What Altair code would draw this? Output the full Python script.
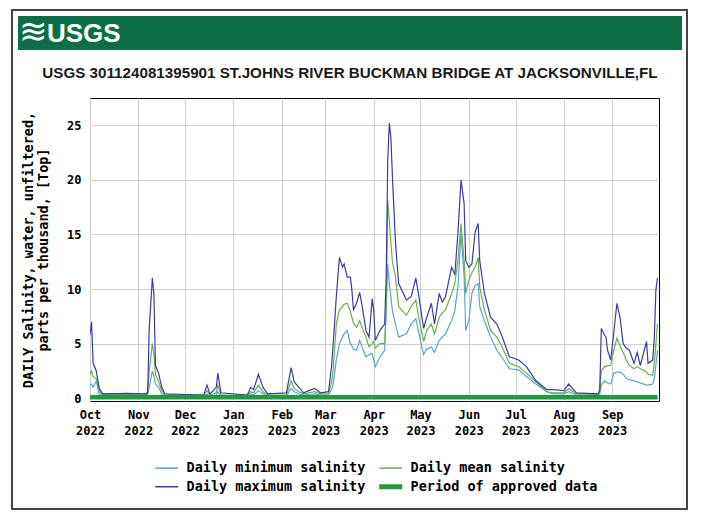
import altair as alt
import pandas as pd

# daily salinity (ppt)
dates = [
    "2022-10-01", "2022-10-02", "2022-10-03", "2022-10-05", "2022-10-07", "2022-10-09",
    "2022-10-25", "2022-11-06", "2022-11-07", "2022-11-08", "2022-11-10", "2022-11-11",
    "2022-11-12", "2022-11-14", "2022-11-16", "2022-11-18", "2022-12-13", "2022-12-15",
    "2022-12-17", "2022-12-21", "2022-12-22", "2022-12-24", "2023-01-10", "2023-01-12",
    "2023-01-14", "2023-01-17", "2023-01-20", "2023-01-23", "2023-02-04", "2023-02-07",
    "2023-02-09", "2023-02-12", "2023-02-15", "2023-02-22", "2023-02-26", "2023-03-03",
    "2023-03-05", "2023-03-06", "2023-03-08", "2023-03-10", "2023-03-12", "2023-03-13",
    "2023-03-15", "2023-03-17", "2023-03-18", "2023-03-19", "2023-03-21", "2023-03-23",
    "2023-03-25", "2023-03-27", "2023-03-29", "2023-03-31", "2023-04-01", "2023-04-02",
    "2023-04-05", "2023-04-08", "2023-04-09", "2023-04-10", "2023-04-11", "2023-04-12",
    "2023-04-13", "2023-04-15", "2023-04-17", "2023-04-22", "2023-04-25", "2023-04-28",
    "2023-04-30", "2023-05-03", "2023-05-05", "2023-05-08", "2023-05-10", "2023-05-13",
    "2023-05-15", "2023-05-17", "2023-05-21", "2023-05-23", "2023-05-25", "2023-05-27",
    "2023-05-29", "2023-05-30", "2023-06-01", "2023-06-03", "2023-06-05", "2023-06-07",
    "2023-06-08", "2023-06-11", "2023-06-15", "2023-06-19", "2023-06-22", "2023-06-27",
    "2023-07-03", "2023-07-08", "2023-07-14", "2023-07-21", "2023-07-25", "2023-08-01",
    "2023-08-04", "2023-08-09", "2023-08-23", "2023-08-24", "2023-08-25", "2023-08-27",
    "2023-08-28", "2023-08-29", "2023-08-31", "2023-09-02", "2023-09-04", "2023-09-06",
    "2023-09-08", "2023-09-10", "2023-09-12", "2023-09-15", "2023-09-17", "2023-09-19",
    "2023-09-23", "2023-09-24", "2023-09-27", "2023-09-28", "2023-09-29", "2023-09-30",
]
min_sal = [
    1.2, 1.3, 1.0, 1.6, 0.3, 0.3,
    0.3, 0.3, 0.3, 1.0, 2.5, 2.0,
    1.3, 1.0, 0.4, 0.2, 0.2, 0.4,
    0.2, 0.3, 0.6, 0.2, 0.2, 0.4,
    0.3, 0.7, 0.4, 0.2, 0.2, 0.9,
    0.6, 0.4, 0.3, 0.4, 0.3, 0.3,
    0.8, 1.3, 3.5, 5.0, 5.6, 5.9,
    6.2, 5.0, 4.8, 4.5, 4.4, 5.3,
    4.5, 3.8, 4.0, 4.1, 3.5, 2.9,
    3.8, 4.4, 8.1, 12.3, 10.5, 9.3,
    8.0, 6.8, 5.6, 5.9, 6.8, 7.3,
    5.9, 4.0, 4.5, 4.7, 4.2, 5.3,
    5.6, 5.9, 7.1, 8.0, 10.2, 15.1,
    11.1, 6.2, 7.1, 9.6, 10.3, 10.5,
    8.4, 7.1, 5.6, 4.4, 3.8, 2.7,
    2.6, 2.0, 1.3, 0.6, 0.4, 0.4,
    0.6, 0.3, 0.3, 0.4, 1.2, 1.6,
    1.5, 1.4, 1.3, 2.3, 2.4, 2.4,
    2.2, 1.8, 1.7, 1.6, 1.5, 1.4,
    1.2, 1.2, 1.3, 1.8, 3.0, 4.4,
]
mean_sal = [
    2.2, 2.5, 2.0, 1.8, 0.6, 0.35,
    0.35, 0.35, 0.4, 2.5, 5.0, 4.0,
    2.2, 1.5, 0.7, 0.3, 0.3, 0.7,
    0.3, 0.5, 1.2, 0.3, 0.3, 0.6,
    0.5, 1.2, 0.6, 0.3, 0.3, 1.6,
    0.9, 0.6, 0.4, 0.6, 0.4, 0.4,
    1.5, 2.6, 6.8, 8.1, 8.4, 8.6,
    8.7, 8.0, 7.4, 6.9, 6.5, 7.1,
    6.3, 5.6, 4.7, 5.0, 5.2, 4.6,
    5.0, 5.0, 8.1, 18.1, 16.3, 14.2,
    12.5, 11.1, 8.4, 7.6, 8.4, 9.0,
    7.3, 5.2, 6.2, 6.8, 5.9, 7.4,
    7.8, 8.1, 9.6, 10.5, 12.6, 16.0,
    12.6, 9.6, 10.8, 11.5, 12.0, 12.9,
    10.2, 8.1, 6.2, 5.6, 4.8, 3.2,
    2.9, 2.3, 1.5, 0.6, 0.5, 0.5,
    0.9, 0.4, 0.35, 0.6, 2.5, 2.9,
    2.9, 3.0, 3.0, 4.4, 5.5, 4.8,
    4.2, 3.5, 3.0, 2.7, 2.9, 2.7,
    2.4, 2.2, 2.1, 3.2, 5.0, 6.8,
]
max_sal = [
    5.8, 7.0, 3.2, 2.5, 0.9, 0.4,
    0.45, 0.4, 0.6, 6.4, 11.0, 9.5,
    3.0, 2.3, 1.0, 0.4, 0.3, 1.2,
    0.4, 1.0, 2.3, 0.5, 0.3, 1.0,
    0.8, 2.2, 1.0, 0.4, 0.5, 2.8,
    1.5, 1.0, 0.5, 0.9, 0.5, 0.6,
    3.0, 5.0, 9.3, 12.9, 12.0, 12.3,
    11.1, 11.1, 9.9, 8.1, 8.7, 9.7,
    8.1, 6.2, 5.6, 9.1, 8.1, 5.3,
    6.2, 6.8, 11.1, 21.8, 25.2, 23.9,
    20.3, 14.2, 10.5, 9.0, 9.3, 11.0,
    9.3, 6.4, 7.4, 8.7, 6.8, 9.6,
    8.8, 9.3, 12.0, 11.3, 15.1, 20.0,
    17.8, 12.6, 12.0, 12.3, 15.2, 16.0,
    12.6, 9.6, 7.4, 6.8, 5.8, 3.8,
    3.5, 2.9, 1.6, 0.8, 0.8, 0.7,
    1.3, 0.5, 0.4, 0.8, 6.4, 5.8,
    5.6, 4.4, 3.5, 6.0, 8.7, 7.4,
    5.0, 4.6, 4.4, 3.2, 4.2, 3.0,
    5.2, 3.2, 3.5, 5.6, 9.9, 11.0,
]

# approved-data bar along the bottom
approved_dates = ["2022-10-01", "2023-09-30"]
approved_level = [0.1, 0.1]

MIN_LBL = "Daily minimum salinity"
MEAN_LBL = "Daily mean salinity"
MAX_LBL = "Daily maximum salinity"
APPR_LBL = "Period of approved data"

# legend fills column by column -> min/max in the first column
legend_order = [MIN_LBL, MAX_LBL, MEAN_LBL, APPR_LBL]
legend_colors = ["#5aa6c8", "#3c3ca6", "#6aae50", "#1f9a3c"]

frames = []
for name, vals in [(MIN_LBL, min_sal), (MEAN_LBL, mean_sal), (MAX_LBL, max_sal)]:
    frames.append(pd.DataFrame({"date": dates, "value": vals, "series": name}))
df = pd.concat(frames, ignore_index=True)
df_appr = pd.DataFrame({"date": approved_dates, "value": approved_level, "series": APPR_LBL})

MONO = "DejaVu Sans Mono"
SANS = "Liberation Sans"

month_ticks = [alt.DateTime(year=2022, month=m, date=1, utc=True) for m in (10, 11, 12)] + \
              [alt.DateTime(year=2023, month=m, date=1, utc=True) for m in range(1, 10)]

leg = alt.Legend(title=None, orient="none", legendX=70, legendY=363, columns=2,
                 columnPadding=3, rowPadding=1, symbolType="stroke", symbolSize=529,
                 symbolStrokeWidth=alt.ExprRef(f"datum.value == '{APPR_LBL}' ? 5 : 1.5"),
                 labelFont=MONO, labelFontWeight="bold", labelFontSize=13.5,
                 labelColor="black", labelOffset=13, labelLimit=300, padding=0)

x_enc = alt.X("date:T",
              scale=alt.Scale(type="utc",
                              domain=[alt.DateTime(year=2022, month=10, date=1, utc=True),
                                      alt.DateTime(year=2023, month=10, date=1, utc=True)]),
              axis=alt.Axis(values=month_ticks, title=None, grid=True, gridColor="#cfcfcf",
                            tickSize=0, domain=False, labelPadding=8, labelFont=MONO,
                            labelFontWeight="bold", labelFontSize=12, labelColor="black",
                            labelLineHeight=16, labelFlush=False, labelOverlap=False,
                            labelExpr="[utcFormat(datum.value, '%b'), utcFormat(datum.value, '%Y')]"))
y_enc = alt.Y("value:Q",
              scale=alt.Scale(domain=[-0.25, 27.5], nice=False, zero=False),
              axis=alt.Axis(values=[0, 5, 10, 15, 20, 25], grid=True, gridColor="#cfcfcf",
                            tickSize=0, domain=False, labelPadding=9, labelFont=MONO,
                            labelFontWeight="bold", labelFontSize=12, labelColor="black",
                            title=["DAILY Salinity, water, unfiltered,", "parts per thousand, [Top]"],
                            titleFont=MONO, titleFontWeight="bold", titleFontSize=13.5,
                            titleColor="black", titleLineHeight=15, titlePadding=16))
c_enc = alt.Color("series:N", scale=alt.Scale(domain=legend_order, range=legend_colors),
                  legend=leg)

lines = alt.Chart(df).mark_line(clip=True, strokeWidth=1.2).encode(
    x=x_enc, y=y_enc, color=c_enc)

approved = alt.Chart(df_appr).mark_line(clip=True, strokeWidth=4.5).encode(
    x="date:T", y="value:Q", color=c_enc)

one = pd.DataFrame({"k": [0]})

border = alt.Chart(one).mark_rect(filled=False, stroke="#444444", strokeWidth=2).encode(
    x=alt.value(-78), x2=alt.value(597), y=alt.value(-88), y2=alt.value(411))

banner = alt.Chart(one).mark_rect(color="#0c6e47").encode(
    x=alt.value(-72), x2=alt.value(592), y=alt.value(-82), y2=alt.value(-48))

wave = alt.Chart(one).mark_text(text="≋", fontSize=34, color="white", align="center",
                                baseline="middle").encode(x=alt.value(-57), y=alt.value(-65))

logo = alt.Chart(one).mark_text(text="USGS", font=SANS, fontWeight="bold", fontSize=26,
                                color="white", align="left", baseline="middle").encode(
    x=alt.value(-43), y=alt.value(-64))

title = alt.Chart(one).mark_text(
    text="USGS 301124081395901 ST.JOHNS RIVER BUCKMAN BRIDGE AT JACKSONVILLE,FL",
    font=SANS, fontWeight="bold", fontSize=15.2, color="#1a1a1a",
    align="center", baseline="middle").encode(x=alt.value(260), y=alt.value(-25))

chart = alt.layer(border, banner, wave, logo, title, lines, approved).properties(
    width=569, height=303,
    autosize=alt.AutoSizeParams(type="none"),
    padding={"left": 82, "top": 90, "right": 34, "bottom": 113},
).configure_view(stroke="black", strokeWidth=1)

chart.save("out.html", embed_options={"renderer": "svg", "actions": False})
